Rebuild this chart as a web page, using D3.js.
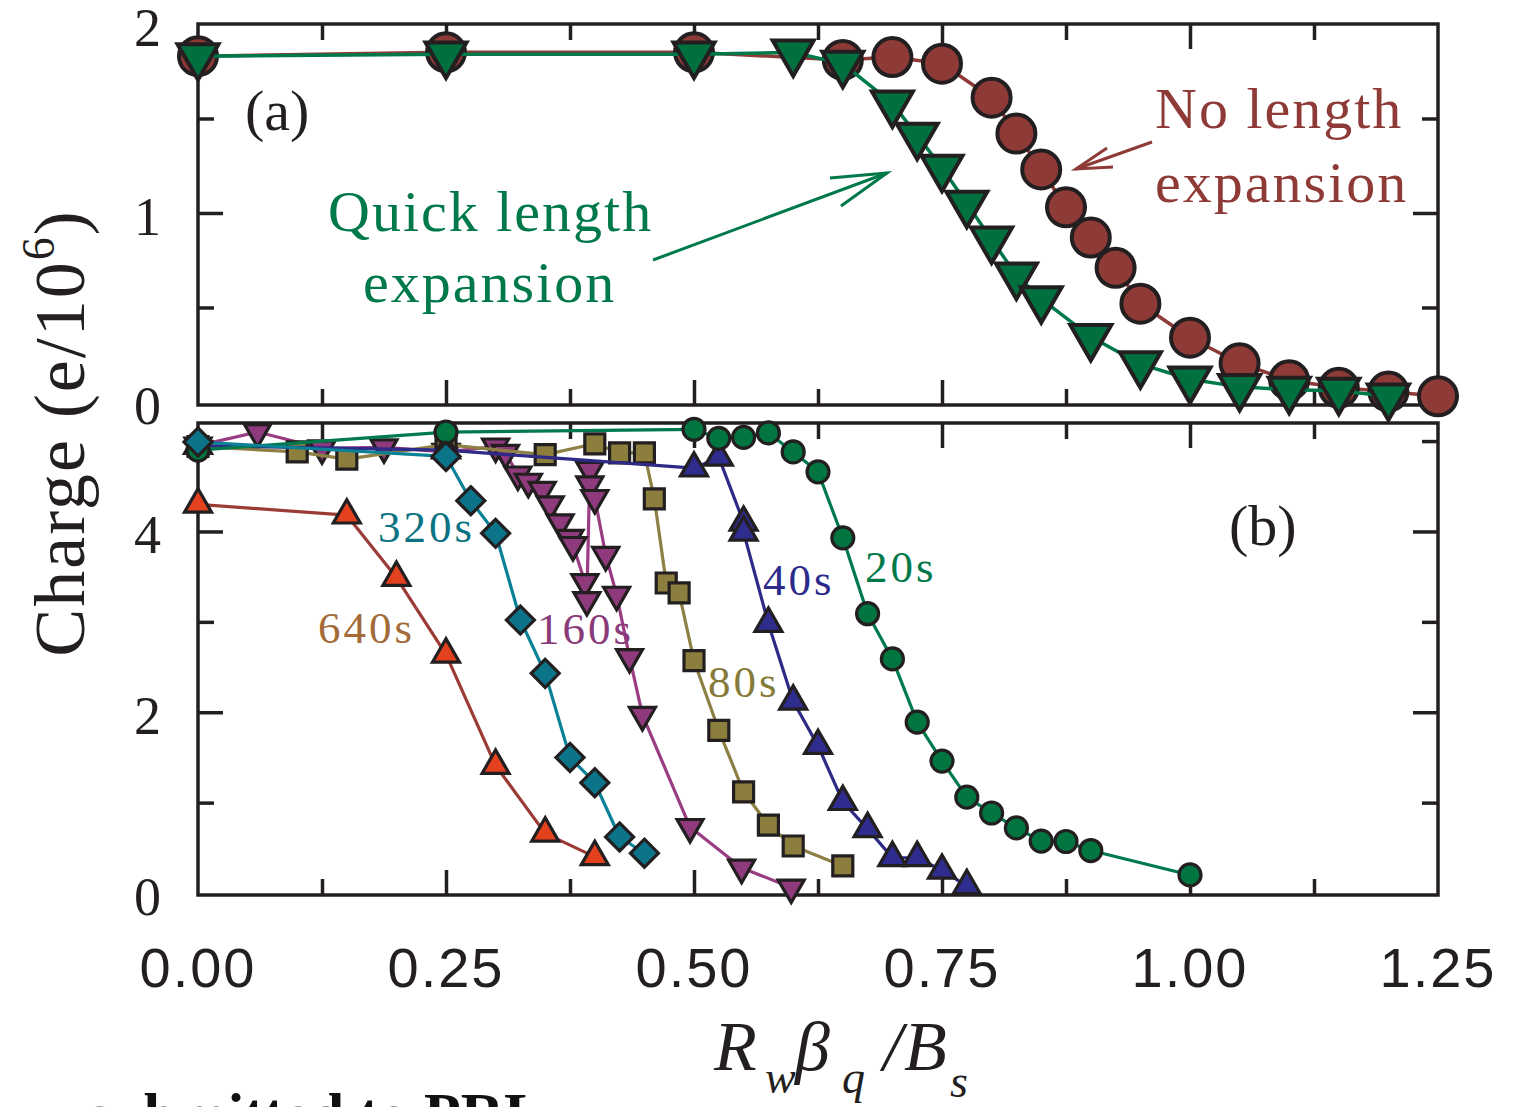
<!DOCTYPE html>
<html>
<head>
<meta charset="utf-8">
<script src="https://cdn.jsdelivr.net/npm/d3@7"></script>
<style>
  html, body { margin: 0; padding: 0; background: #fff; }
  svg { display: block; }
  text { font-family: "Liberation Serif", "Times New Roman", serif; }
</style>
</head>
<body>
<div id="container"></div>
<script>
// ---- data ----
// panel (a)
var xNoExp = [0, 0.25, 0.5, 0.65, 0.7, 0.75, 0.8, 0.825, 0.85, 0.875, 0.9, 0.925, 0.95, 1.0, 1.05, 1.1, 1.15, 1.2, 1.25];
var qNoExp = [1.83, 1.85, 1.85, 1.81, 1.825, 1.79, 1.61, 1.42, 1.23, 1.03, 0.87, 0.71, 0.52, 0.34, 0.205, 0.115, 0.075, 0.055, 0.03];
var xQuick = [0, 0.25, 0.5, 0.6, 0.65, 0.7, 0.725, 0.75, 0.775, 0.8, 0.825, 0.85, 0.9, 0.95, 1.0, 1.05, 1.1, 1.15, 1.2];
var qQuick = [1.83, 1.84, 1.84, 1.85, 1.79, 1.58, 1.41, 1.24, 1.05, 0.86, 0.67, 0.545, 0.345, 0.2, 0.12, 0.08, 0.065, 0.06, 0.03];

// panel (b), one pair per hold time
var x20 = [0, 0.25, 0.5, 0.525, 0.55, 0.575, 0.6, 0.625, 0.65, 0.675, 0.7, 0.725, 0.75, 0.775, 0.8, 0.825, 0.85, 0.875, 0.9, 1.0];
var q20 = [4.9, 5.1, 5.13, 5.03, 5.04, 5.09, 4.88, 4.66, 3.93, 3.09, 2.59, 1.89, 1.46, 1.06, 0.885, 0.72, 0.575, 0.57, 0.47, 0.2];
var x40 = [0, 0.25, 0.5, 0.525, 0.55, 0.55, 0.575, 0.6, 0.625, 0.65, 0.675, 0.7, 0.725, 0.75, 0.775];
var q40 = [4.95, 4.9, 4.7, 4.82, 4.1, 3.99, 2.98, 2.12, 1.63, 1.01, 0.71, 0.39, 0.39, 0.25, 0.08];
var x80 = [0, 0.1, 0.15, 0.25, 0.35, 0.4, 0.425, 0.45, 0.46, 0.472, 0.485, 0.5, 0.525, 0.55, 0.575, 0.6, 0.65];
var q80 = [4.94, 4.88, 4.8, 4.96, 4.85, 4.97, 4.87, 4.87, 4.36, 3.43, 3.32, 2.57, 1.8, 1.12, 0.75, 0.52, 0.3];
var x160 = [0, 0.06, 0.125, 0.1875, 0.25, 0.3, 0.31, 0.3225, 0.333, 0.347, 0.355, 0.365, 0.375, 0.378, 0.39, 0.392, 0.395, 0.395, 0.4, 0.411, 0.422, 0.435, 0.448, 0.496, 0.548, 0.598];
var q160 = [4.95, 5.1, 4.92, 4.93, 4.88, 4.94, 4.87, 4.63, 4.55, 4.46, 4.3, 4.1, 3.93, 3.85, 3.44, 3.24, 4.68, 4.52, 4.37, 3.74, 3.3, 2.61, 1.97, 0.73, 0.28, 0.06];
var x320 = [0, 0.25, 0.275, 0.3, 0.325, 0.35, 0.375, 0.4, 0.425, 0.45];
var q320 = [4.99, 4.83, 4.34, 3.98, 3.02, 2.43, 1.5, 1.22, 0.62, 0.44];
var x640 = [0, 0.15, 0.2, 0.25, 0.3, 0.35, 0.4];
var q640 = [4.3, 4.18, 3.49, 2.64, 1.41, 0.66, 0.4];

var xTickLabels = ['0.00', '0.25', '0.50', '0.75', '1.00', '1.25'];
var yTicksA = [0, 1, 2];
var yTicksB = [0, 2, 4];

// ---- layout ----
var width = 1514;
var height = 1107;
var ink = '#231f20';

var x = d3.scaleLinear().domain([0, 1.25]).range([198, 1438]);
var yA = d3.scaleLinear().domain([-0.016, 2]).range([405, 24]);
var yB = d3.scaleLinear().domain([-0.022, 5.2]).range([895, 423]);

var svg = d3.select('#container')
	.append('svg')
	.attr('width', width)
	.attr('height', height);

// marker shapes for d3.symbol, size = side length / diameter
var triDown = {draw: function(c, s) {
	var h = s * 0.866;
	c.moveTo(-s / 2, -h / 3); c.lineTo(s / 2, -h / 3); c.lineTo(0, 2 * h / 3); c.closePath();
}};
var triUp = {draw: function(c, s) {
	var h = s * 0.866;
	c.moveTo(-s / 2, h / 3); c.lineTo(s / 2, h / 3); c.lineTo(0, -2 * h / 3); c.closePath();
}};
var square = {draw: function(c, s) { c.rect(-s / 2, -s / 2, s, s); }};
var diamond = {draw: function(c, s) {
	var a = s / 2;
	c.moveTo(0, -a); c.lineTo(a, 0); c.lineTo(0, a); c.lineTo(-a, 0); c.closePath();
}};
var disc = {draw: function(c, s) { c.moveTo(s / 2, 0); c.arc(0, 0, s / 2, 0, 2 * Math.PI); }};

function panelFrame(y, yMajor, yMinor) {
	var top = y.range()[1], bot = y.range()[0];
	var xMajor = [0.25, 0.5, 0.75, 1.0];
	var xMinor = [0.125, 0.375, 0.625, 0.875, 1.125];
	var g = svg.append('g').attr('class', 'frame');
	function put(axis, tx, ty) {
		g.append('g')
			.attr('transform', 'translate(' + tx + ',' + ty + ')')
			.call(axis.tickFormat('').tickSizeOuter(0))
			.call(function(a) {
				a.select('.domain').remove();
				a.selectAll('line').attr('stroke', ink).attr('stroke-width', 3.5);
			});
	}
	put(d3.axisBottom(x).tickValues(xMajor).tickSizeInner(-25), 0, bot);
	put(d3.axisBottom(x).tickValues(xMinor).tickSizeInner(-16), 0, bot);
	put(d3.axisTop(x).tickValues(xMajor).tickSizeInner(-25), 0, top);
	put(d3.axisTop(x).tickValues(xMinor).tickSizeInner(-16), 0, top);
	put(d3.axisLeft(y).tickValues(yMajor).tickSizeInner(-25), x(0), 0);
	put(d3.axisLeft(y).tickValues(yMinor).tickSizeInner(-16), x(0), 0);
	put(d3.axisRight(y).tickValues(yMajor).tickSizeInner(-25), x(1.25), 0);
	put(d3.axisRight(y).tickValues(yMinor).tickSizeInner(-16), x(1.25), 0);
	g.append('rect')
		.attr('x', x(0)).attr('y', top)
		.attr('width', x(1.25) - x(0)).attr('height', bot - top)
		.attr('fill', 'none').attr('stroke', ink).attr('stroke-width', 3.5);
}

function series(y, xs, qs, opt) {
	var pts = xs.map(function(v, i) { return [v, qs[i]]; });
	var line = d3.line().x(function(d) { return x(d[0]); }).y(function(d) { return y(d[1]); });
	var g = svg.append('g');
	g.append('path')
		.attr('d', line(pts))
		.attr('fill', 'none')
		.attr('stroke', opt.line)
		.attr('stroke-width', opt.lw)
		.attr('stroke-linejoin', 'round');
	var sym = d3.symbol().type(opt.shape).size(opt.size);
	g.selectAll('path.mk')
		.data(pts)
		.enter()
		.append('path')
		.attr('class', 'mk')
		.attr('d', sym)
		.attr('transform', function(d) { return 'translate(' + x(d[0]) + ',' + y(d[1]) + ')'; })
		.attr('fill', opt.fill)
		.attr('stroke', ink)
		.attr('stroke-width', opt.sw)
		.attr('stroke-linejoin', 'miter');
}

// ---- panel (a) ----
panelFrame(yA, [1], [0.5, 1.5]);
series(yA, xNoExp, qNoExp, {shape: disc, size: 38, fill: '#8e3a36', line: '#8e3a36', lw: 3.5, sw: 4});
series(yA, xQuick, qQuick, {shape: triDown, size: 41, fill: '#00703f', line: '#00794a', lw: 3.5, sw: 4});

// ---- panel (b) ----
panelFrame(yB, [2, 4], [1, 3, 5]);
series(yB, x160, q160, {shape: triDown, size: 26, fill: '#8f3a7c', line: '#9a3c82', lw: 3.2, sw: 3.2});
series(yB, x80, q80, {shape: square, size: 20, fill: '#8c7f3e', line: '#8c8045', lw: 3.2, sw: 3.2});
series(yB, x40, q40, {shape: triUp, size: 27, fill: '#2e2c8c', line: '#2e2a85', lw: 3.2, sw: 3.2});
series(yB, x20, q20, {shape: disc, size: 22, fill: '#00753f', line: '#00794c', lw: 3.2, sw: 3.2});
series(yB, x320, q320, {shape: diamond, size: 28, fill: '#0b7489', line: '#0a8197', lw: 3.2, sw: 3.2});
series(yB, x640, q640, {shape: triUp, size: 27, fill: '#e4411f', line: '#9b3b36', lw: 3.2, sw: 3.2});

// ---- tick labels ----
svg.append('g').selectAll('text')
	.data(xTickLabels)
	.enter()
	.append('text')
	.attr('x', function(d) { return x(+d); })
	.attr('y', 987)
	.attr('text-anchor', 'middle')
	.style('font-family', '"Liberation Sans", Arial, sans-serif')
	.style('font-size', '56px')
	.style('letter-spacing', '2px')
	.attr('fill', ink)
	.text(function(d) { return d; });

function yLabels(y, ticks) {
	svg.append('g').selectAll('text')
		.data(ticks)
		.enter()
		.append('text')
		.attr('x', 161)
		.attr('y', function(d) { return y(d) + 22; })
		.attr('text-anchor', 'end')
		.style('font-size', '54px')
		.attr('fill', ink)
		.text(function(d) { return d; });
}
yLabels(yA, yTicksA);
yLabels(yB, yTicksB);

// ---- axis titles ----
var yt = svg.append('text')
	.attr('transform', 'translate(84,433) rotate(-90)')
	.attr('text-anchor', 'middle')
	.style('font-size', '72px')
	.style('letter-spacing', '2px')
	.attr('fill', ink);
yt.append('tspan').text('Charge (e/10');
yt.append('tspan').attr('dy', -30).style('font-size', '46px').text('6');
yt.append('tspan').attr('dy', 30).text(')');

var xt = svg.append('g').attr('fill', ink).style('font-style', 'italic');
xt.append('text').attr('x', 714).attr('y', 1070).style('font-size', '70px').text('R');
xt.append('text').attr('x', 765).attr('y', 1093).style('font-size', '46px').text('w');
xt.append('text').attr('x', 795).attr('y', 1070).style('font-size', '70px').text('β');
xt.append('text').attr('x', 842).attr('y', 1093).style('font-size', '46px').text('q');
xt.append('text').attr('x', 883).attr('y', 1070).style('font-size', '70px').text('/');
xt.append('text').attr('x', 904).attr('y', 1070).style('font-size', '70px').text('B');
xt.append('text').attr('x', 950).attr('y', 1097).style('font-size', '46px').text('s');

// footer line, cut off by the bottom edge as in the source
svg.append('text')
	.attr('x', 544).attr('y', 1134)
	.attr('text-anchor', 'end')
	.style('font-size', '60px')
	.style('font-weight', 'bold')
	.attr('fill', '#111')
	.text('submitted to PRL');

// ---- annotations ----
function note(txt, x0, y0, size, color, spacing) {
	svg.append('text')
		.attr('x', x0).attr('y', y0)
		.style('font-size', size + 'px')
		.style('letter-spacing', spacing + 'px')
		.attr('fill', color)
		.text(txt);
}
var green = '#00794a';
var brown = '#8e3a36';
note('(a)', 245, 130, 58, ink, 0);
note('(b)', 1229, 545, 58, ink, 0);
note('Quick length', 328, 231, 58, green, 2);
note('expansion', 363, 302, 58, green, 2);
note('No length', 1155, 128, 58, brown, 2);
note('expansion', 1155, 202, 58, brown, 2);

note('320s', 378, 542, 45, '#0b7383', 3);
note('640s', 318, 643, 45, '#a36b38', 3);
note('160s', 537, 644, 45, '#8a3a78', 3);
note('80s', 708, 697, 45, '#857a3a', 3);
note('40s', 763, 595, 45, '#2c2a8a', 3);
note('20s', 865, 582, 45, '#00794a', 3);

function arrow(x1, y1, x2, y2, ax, ay, bx, by, color) {
	var g = svg.append('g').attr('stroke', color).attr('stroke-width', 3).attr('fill', 'none');
	g.append('line').attr('x1', x1).attr('y1', y1).attr('x2', x2).attr('y2', y2);
	g.append('polyline').attr('points', [[ax, ay], [x2, y2], [bx, by]].join(' '));
}
arrow(653, 260, 887, 173, 830, 178, 841, 206, green);
arrow(1152, 142, 1076, 169, 1107, 148, 1113, 167, brown);
</script>
</body>
</html>
